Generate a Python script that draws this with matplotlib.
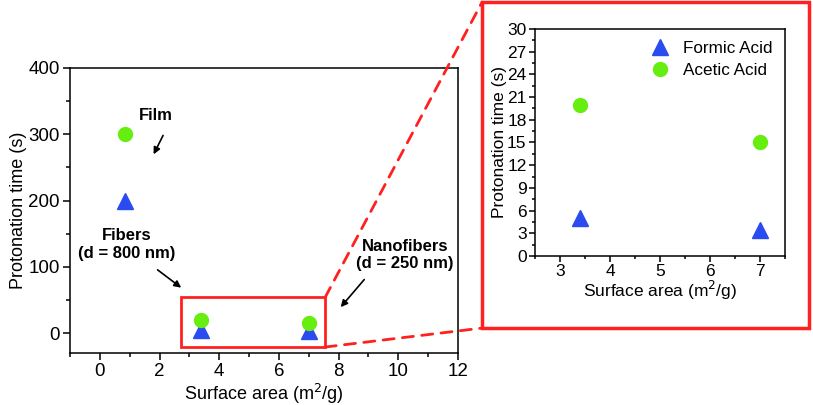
import matplotlib
matplotlib.use("Agg")
import matplotlib.pyplot as plt
from matplotlib.patches import Rectangle, ConnectionPatch
from matplotlib.ticker import MultipleLocator

plt.rcParams['font.family'] = ['Liberation Sans', 'DejaVu Sans']

# Data
surface_area = [0.83, 3.4, 7.0]
formic_acid = [200, 5, 3.5]
acetic_acid = [300, 20, 15]
series_labels = ["Formic Acid", "Acetic Acid"]

blue = "#2a4bf0"
green = "#66ee11"
red = "#ff2020"

fig = plt.figure(figsize=(8.13, 4.05), dpi=100)

# Main axes
ax = fig.add_axes([0.0861, 0.1284, 0.4772, 0.7037])
ax.plot(surface_area, formic_acid, '^', color=blue, markersize=11, linestyle='none')
ax.plot(surface_area, acetic_acid, 'o', color=green, markersize=10, linestyle='none')
ax.set_xlim(-1, 12)
ax.set_ylim(-30, 400)
ax.set_xticks([0, 2, 4, 6, 8, 10, 12])
ax.set_yticks([0, 100, 200, 300, 400])
ax.xaxis.set_minor_locator(MultipleLocator(1))
ax.yaxis.set_minor_locator(MultipleLocator(50))
ax.tick_params(which='both', direction='out', labelsize=13.5, width=1.1, top=False, right=False, pad=2.5)
ax.tick_params(which='major', length=5)
ax.tick_params(which='minor', length=3)
for s in ax.spines.values():
    s.set_linewidth(1.1)
ax.set_xlabel("Surface area (m$^2$/g)", fontsize=13, labelpad=1)
ax.set_ylabel("Protonation time (s)", fontsize=13, labelpad=1)

rect = Rectangle((2.72, -21), 4.83, 75, fill=False, edgecolor=red, linewidth=2)
ax.add_patch(rect)

# Annotations
akw = dict(arrowstyle='-|>', color='black', lw=1.2, mutation_scale=10)
ax.text(1.89, 329, "Film", fontsize=12, fontweight='bold', ha='center', va='center')
ax.annotate("", xy=(1.76, 266), xytext=(2.16, 302), arrowprops=akw)
ax.text(0.89, 134, "Fibers\n(d = 800 nm)", fontsize=12, fontweight='bold',
        ha='center', va='center', linespacing=1.2)
ax.annotate("", xy=(2.80, 66), xytext=(1.86, 98), arrowprops=akw)
ax.text(10.22, 118, "Nanofibers\n(d = 250 nm)", fontsize=12, fontweight='bold',
        ha='center', va='center', linespacing=1.2)
ax.annotate("", xy=(8.01, 36), xytext=(8.92, 84), arrowprops=akw)

# Inset frame
frame = Rectangle((0.593, 0.190), 0.402, 0.805, transform=fig.transFigure,
                  fill=False, edgecolor=red, linewidth=2.5)
fig.add_artist(frame)

# Dashed connectors
c1 = ConnectionPatch(xyA=(7.55, 54), coordsA=ax.transData,
                     xyB=(0.593, 0.995), coordsB=fig.transFigure,
                     color=red, linestyle=(0, (4, 3)), linewidth=2)
c2 = ConnectionPatch(xyA=(7.55, -21), coordsA=ax.transData,
                     xyB=(0.593, 0.190), coordsB=fig.transFigure,
                     color=red, linestyle=(0, (4, 3)), linewidth=2)
fig.add_artist(c1)
fig.add_artist(c2)

# Inset axes
ins = fig.add_axes([0.658, 0.3679, 0.3075, 0.5605])
ins.plot(surface_area[1:], formic_acid[1:], '^', color=blue, markersize=11,
         linestyle='none', label=series_labels[0])
ins.plot(surface_area[1:], acetic_acid[1:], 'o', color=green, markersize=10,
         linestyle='none', label=series_labels[1])
ins.set_xlim(2.5, 7.5)
ins.set_ylim(0, 30)
ins.set_xticks([3, 4, 5, 6, 7])
ins.set_yticks(range(0, 31, 3))
ins.xaxis.set_minor_locator(MultipleLocator(0.5))
ins.yaxis.set_minor_locator(MultipleLocator(1.5))
ins.tick_params(which='both', direction='out', labelsize=12.5, width=1.1, top=False, right=False, pad=2)
ins.tick_params(which='major', length=4)
ins.tick_params(which='minor', length=2.5)
for s in ins.spines.values():
    s.set_linewidth(1.1)
ins.set_xlabel("Surface area (m$^2$/g)", fontsize=12.5, labelpad=0)
ins.set_ylabel("Protonation time (s)", fontsize=12.5, labelpad=0)
ins.legend(loc='upper right', frameon=False, fontsize=12.3, handletextpad=0.4,
           borderaxespad=0.3, labelspacing=0.4)

fig.savefig("out.png", dpi=100)
